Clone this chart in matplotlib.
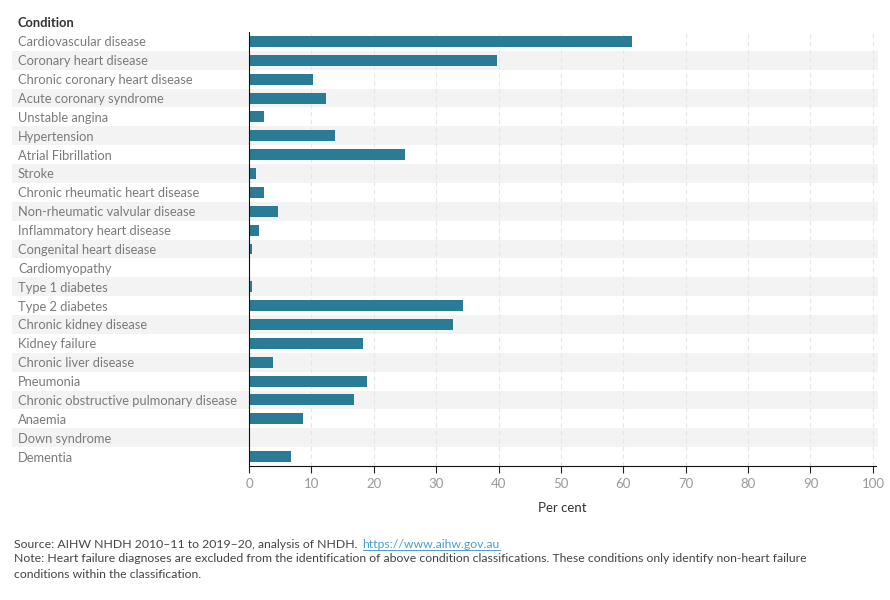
import matplotlib.pyplot as plt
from matplotlib.patches import Rectangle
from matplotlib.lines import Line2D
from matplotlib.transforms import blended_transform_factory

conditions = [
    "Cardiovascular disease", "Coronary heart disease", "Chronic coronary heart disease",
    "Acute coronary syndrome", "Unstable angina", "Hypertension", "Atrial Fibrillation",
    "Stroke", "Chronic rheumatic heart disease", "Non-rheumatic valvular disease",
    "Inflammatory heart disease", "Congenital heart disease", "Cardiomyopathy",
    "Type 1 diabetes", "Type 2 diabetes", "Chronic kidney disease", "Kidney failure",
    "Chronic liver disease", "Pneumonia", "Chronic obstructive pulmonary disease",
    "Anaemia", "Down syndrome", "Dementia",
]
per_cent = [
    61.4, 39.7, 10.3, 12.3, 2.4, 13.8, 25.0, 1.1, 2.4, 4.6, 1.6, 0.5, 0.0,
    0.5, 34.3, 32.7, 18.3, 3.8, 18.9, 16.8, 8.7, 0.0, 6.7,
]
x_ticks = [0, 10, 20, 30, 40, 50, 60, 70, 80, 90, 100]

plt.rcParams["font.family"] = ["Lato", "DejaVu Sans"]
label_grey = "#7a7a7a"
bar_color = "#2a7b96"

fig = plt.figure(figsize=(8.9, 6.0), dpi=100)
ax = fig.add_axes([249 / 890, 1 - 466 / 600, (876 - 249) / 890, (466 - 32) / 600])

y = list(range(len(conditions)))
ax.barh(y, per_cent, height=0.58, color=bar_color, zorder=3)
ax.set_ylim(len(conditions) - 0.5, -0.5)
ax.set_xlim(0, 100.5)

# alternating row bands, reaching out under the labels
trans = blended_transform_factory(fig.transFigure, ax.transData)
for i in y:
    if i % 2 == 1:
        ax.add_patch(Rectangle((12 / 890, i - 0.5), (878 - 12) / 890, 1.0,
                               transform=trans, facecolor="#f3f3f3",
                               edgecolor="none", zorder=0, clip_on=False))

ax.set_yticks([])
for i, name in enumerate(conditions):
    ax.text(18 / 890, i + 0.05, name, transform=trans, ha="left", va="center",
            fontsize=9.3, color=label_grey)
fig.text(18 / 890, 1 - 23 / 600, "Condition", fontsize=9.3, color="#333333",
         fontweight="bold", va="center")

ax.set_xticks(x_ticks)
ax.set_xticklabels([str(t) for t in x_ticks], fontsize=9.5, color="#999999")
ax.tick_params(axis="x", length=5, width=0.8, color="#222222", pad=4)
ax.grid(axis="x", linestyle=(0, (4, 3)), color="#e6e6e6", linewidth=0.8, zorder=1)
ax.set_axisbelow(False)
ax.set_xlabel("Per cent", fontsize=9.5, color="#333333", labelpad=8)

for side in ["top", "right"]:
    ax.spines[side].set_visible(False)
for side in ["left", "bottom"]:
    ax.spines[side].set_color("#111111")
    ax.spines[side].set_zorder(5)

src = fig.text(14 / 890, 1 - 545 / 600,
               "Source: AIHW NHDH 2010\u201311 to 2019\u201320, analysis of NHDH.",
               fontsize=8.8, color="#444444", va="center")
renderer = fig.canvas.get_renderer()
src_end = src.get_window_extent(renderer).x1
link = fig.text((src_end + 5) / 890, 1 - 545 / 600, "https://www.aihw.gov.au", fontsize=8.8,
                color="#4a9fd0", va="center")
lb = link.get_window_extent(renderer)
fig.add_artist(Line2D([lb.x0 / 890, lb.x1 / 890], [(lb.y0 + 1) / 600] * 2,
                      color="#4a9fd0", linewidth=0.7))
fig.text(14 / 890, 1 - 559 / 600,
         "Note: Heart failure diagnoses are excluded from the identification of above condition "
         "classifications. These conditions only identify non-heart failure",
         fontsize=8.8, color="#444444", va="center")
fig.text(14 / 890, 1 - 575 / 600, "conditions within the classification.",
         fontsize=8.8, color="#444444", va="center")

fig.savefig("out.png", dpi=100)
